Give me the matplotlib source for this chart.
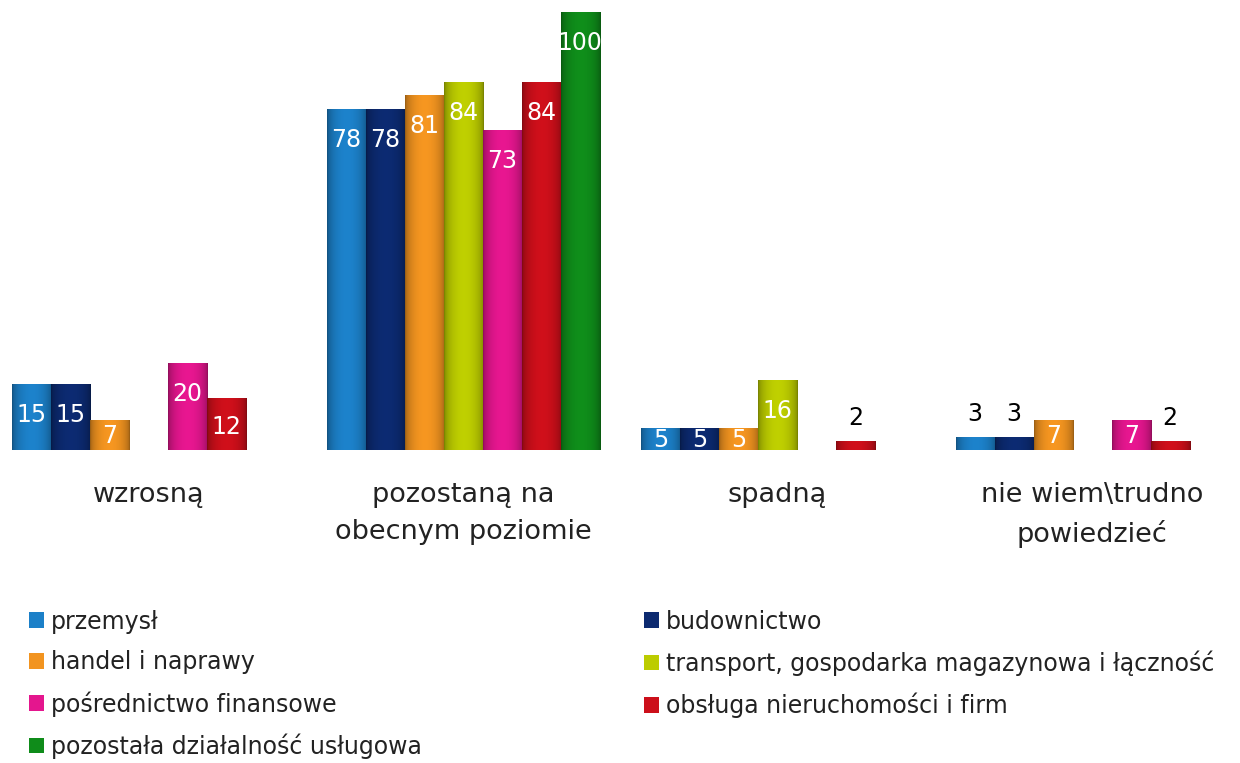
import numpy as np
import matplotlib
matplotlib.use("Agg")
import matplotlib.pyplot as plt
from matplotlib.colors import to_rgb
from matplotlib.patches import Patch

# dane (%)
categories = ["wzrosną", "pozostaną na\nobecnym poziomie", "spadną", "nie wiem\\trudno\npowiedzieć"]
series = ["przemysł", "budownictwo", "handel i naprawy",
          "transport, gospodarka magazynowa i łączność",
          "pośrednictwo finansowe", "obsługa nieruchomości i firm",
          "pozostała działalność usługowa"]
przemysl = [15, 78, 5, 3]
budownictwo = [15, 78, 5, 3]
handel = [7, 81, 5, 7]
transport = [0, 84, 16, 0]
posrednictwo = [20, 73, 0, 7]
obsluga = [12, 84, 2, 2]
pozostala = [0, 100, 0, 0]
values = [przemysl, budownictwo, handel, transport, posrednictwo, obsluga, pozostala]
colors = ["#1c80c8", "#0c2a70", "#f29420", "#bccc00", "#e4168e", "#cc0f1a", "#0f8c1a"]

plt.rcParams['font.family'] = ['DejaVu Sans']

fig = plt.figure(figsize=(12.4, 7.63), dpi=100)
ax = fig.add_axes([0, 0.41, 1, 0.574])

x = np.arange(len(categories))
w = 0.124
px_per_unit = 0.574 * 763 / 100

for i, (name, vals, c) in enumerate(zip(series, values, colors)):
    pos = x + (i - 3) * w
    bars = ax.bar(pos, vals, width=w, color=c, label=name, zorder=2)
    base = np.array(to_rgb(c))
    t = np.linspace(0, 1, 64)
    f = 0.62 + 0.4 * np.sin(np.pi * t) ** 0.5
    grad = np.clip(base[None, :] * f[:, None], 0, 1)[None, :, :]
    for b, v in zip(bars, vals):
        if v <= 0:
            continue
        x0, y0 = b.get_x(), b.get_y()
        im = ax.imshow(grad, extent=(x0, x0 + b.get_width(), y0, y0 + b.get_height()),
                       aspect='auto', zorder=3, interpolation='bilinear')
        im.set_clip_path(b)
        hpx = v * px_per_unit
        if v >= 5:
            off = -min(31, hpx * 0.55)
            ax.annotate(str(v), (b.get_x() + w / 2, v), xytext=(0, off),
                        textcoords='offset pixels', ha='center', va='center',
                        color='white', fontsize=17, zorder=4)
        else:
            ax.annotate(str(v), (b.get_x() + w / 2, v), xytext=(0, 23),
                        textcoords='offset pixels', ha='center', va='center',
                        color='black', fontsize=17, zorder=4)

ax.set_xlim(-0.472, 3.47)
ax.set_ylim(0, 100)
ax.set_xticks(x)
ax.set_xticklabels(categories, fontsize=19.5, color='#222222', linespacing=1.55)
ax.tick_params(axis='x', length=0, pad=23)
ax.set_yticks([])
for s in ax.spines.values():
    s.set_visible(False)

# kolejność wierszami jak w oryginale
order = [0, 2, 4, 6, 1, 3, 5]
handles = [Patch(facecolor=colors[k], label=series[k]) for k in order]
fig.legend(handles=handles, ncol=2, loc='upper left', bbox_to_anchor=(0.006, 0.229),
           frameon=False, fontsize=17, handlelength=0.65, handleheight=0.65,
           handletextpad=0.3, columnspacing=9.4, labelspacing=0.71,
           labelcolor='#222222')

fig.savefig("out.png", dpi=100)
